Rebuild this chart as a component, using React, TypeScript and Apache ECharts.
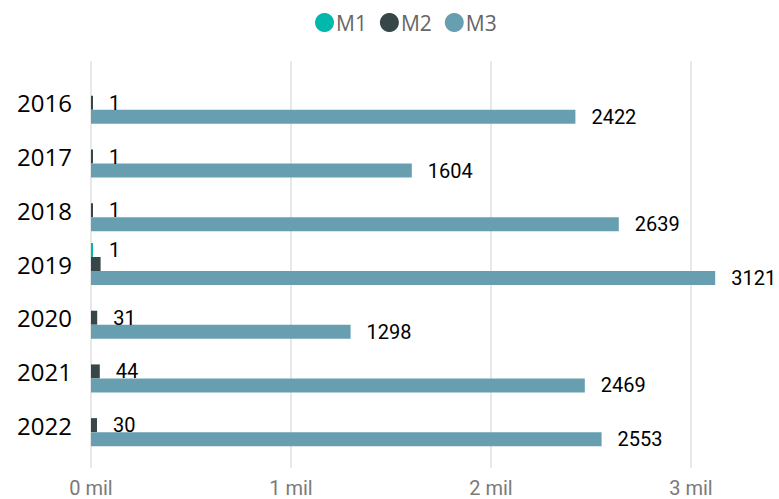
import React, { useEffect, useRef } from "react";
import * as echarts from "echarts";

const years = ["2016", "2017", "2018", "2019", "2020", "2021", "2022"];
const m1Values = [null, null, null, 1, null, null, null];
const m2Values = [1, 1, 1, 48, 31, 44, 30];
const m2HiddenLabelIndex = [3];
const m3Values = [2422, 1604, 2639, 3121, 1298, 2469, 2553];
const xTicks = [0, 1000, 2000, 3000];

const colors = { m1: "#01B8AA", m2: "#374649", m3: "#689FB0" };

export default function App() {
  const ref = useRef<HTMLDivElement>(null);
  useEffect(() => {
    if (!ref.current) return;
    const chart = echarts.init(ref.current, undefined, { renderer: "svg" });
    const labelStyle = {
      show: true,
      position: "right",
      distance: 16,
      fontFamily: "Roboto",
      fontSize: 20,
      fontWeight: "normal",
      color: "#000000",
    };
    chart.setOption({
      animation: false,
      backgroundColor: "#ffffff",
      legend: {
        top: 7,
        left: 310,
        icon: "circle",
        itemWidth: 19,
        itemHeight: 19,
        itemGap: 13,
        data: ["M1", "M2", "M3"],
        textStyle: {
          fontFamily: "Open Sans",
          fontSize: 21,
          color: "#666666",
          padding: [0, 0, 0, -3],
        },
      },
      grid: [
        { left: 91, width: 600, top: 76, height: 376 },
        { left: 91, width: 600, top: 61, height: 407 },
      ],
      xAxis: [
        { type: "value", gridIndex: 0, min: 0, max: 3000, interval: 1000, show: false },
        {
          type: "value",
          gridIndex: 1,
          min: xTicks[0],
          max: xTicks[xTicks.length - 1],
          interval: 1000,
          axisLine: { show: false },
          axisTick: { show: false },
          axisLabel: {
            margin: 10,
            fontFamily: "Roboto",
            fontSize: 20,
            color: "#7a7a7a",
            formatter: (v: number) => `${v / 1000} mil`,
          },
          splitLine: { show: true, lineStyle: { color: "#E8E8E8", width: 2 } },
        },
      ],
      yAxis: [
        {
          type: "category",
          gridIndex: 0,
          data: years,
          inverse: true,
          axisLine: { show: false },
          axisTick: { show: false },
          axisLabel: {
            margin: 19,
            fontFamily: "Open Sans",
            fontSize: 24,
            color: "#000000",
          },
        },
        { type: "category", gridIndex: 1, data: years, show: false },
      ],
      series: [
        {
          name: "M1",
          type: "bar",
          xAxisIndex: 0,
          yAxisIndex: 0,
          data: m1Values,
          barWidth: 14,
          barGap: "0%",
          barMinHeight: 2,
          clip: false,
          itemStyle: { color: colors.m1 },
          label: labelStyle,
        },
        {
          name: "M2",
          type: "bar",
          xAxisIndex: 0,
          yAxisIndex: 0,
          data: m2Values.map((v, i) =>
            m2HiddenLabelIndex.includes(i) ? { value: v, label: { show: false } } : v
          ),
          barWidth: 14,
          barGap: "0%",
          barMinHeight: 2,
          clip: false,
          itemStyle: { color: colors.m2 },
          label: labelStyle,
        },
        {
          name: "M3",
          type: "bar",
          xAxisIndex: 0,
          yAxisIndex: 0,
          data: m3Values,
          barWidth: 14,
          barGap: "0%",
          clip: false,
          itemStyle: { color: colors.m3 },
          label: labelStyle,
        },
      ],
    });
    return () => chart.dispose();
  }, []);
  return (
    <div
      ref={ref}
      style={{ position: "fixed", left: 0, top: 0, width: 779, height: 499 }}
    />
  );
}
